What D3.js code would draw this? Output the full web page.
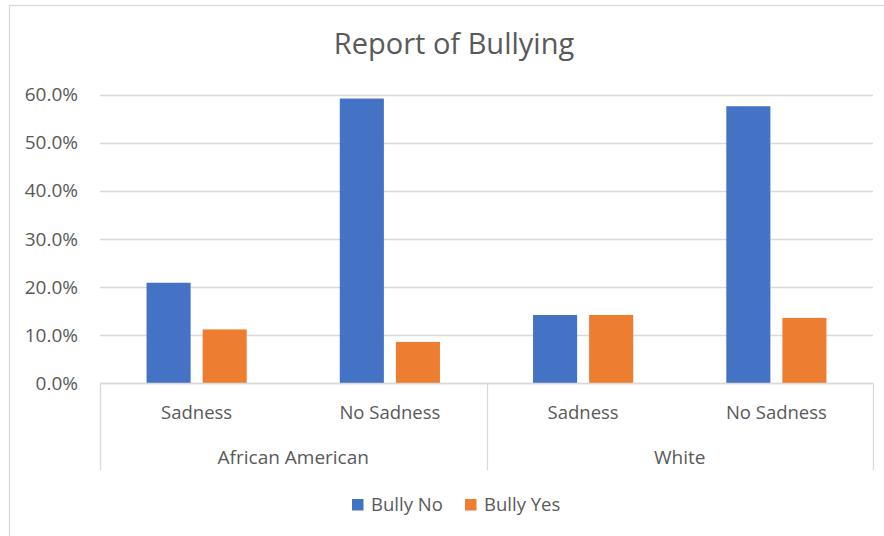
<!DOCTYPE html>
<html>
<head>
<meta charset="utf-8">
<script src="https://cdn.jsdelivr.net/npm/d3@7"></script>
<style>
  html, body { margin: 0; padding: 0; background: #ffffff; }
  svg { display: block; }
  text { font-family: "Open Sans", "Noto Sans", sans-serif; fill: #595959; }
</style>
</head>
<body>
<svg id="chart" width="884" height="536"></svg>
<script>
// ---- data ----
const groups = ["African American", "White"];
const subCategories = ["Sadness", "No Sadness"];
const seriesNames = ["Bully No", "Bully Yes"];
const bullyNo = [0.209, 0.592, 0.142, 0.576];
const bullyYes = [0.112, 0.086, 0.142, 0.136];
const yTicks = [0, 0.1, 0.2, 0.3, 0.4, 0.5, 0.6];
const title = "Report of Bullying";
const colors = ["#4472C4", "#ED7D31"];

// ---- layout ----
const W = 884, H = 536;
const plot = { left: 100, right: 873, top: 94.7, bottom: 383.3 };
const svg = d3.select("#chart");

// chart area border
svg.append("rect")
  .attr("x", 9.5).attr("y", 5.5)
  .attr("width", 900).attr("height", 560)
  .attr("fill", "#ffffff").attr("stroke", "#D9D9D9").attr("stroke-width", 1.3);

// categories (group x sub)
const cats = [];
groups.forEach(g => subCategories.forEach(s => cats.push(g + "|" + s)));

const x0 = d3.scaleBand().domain(cats).range([plot.left, plot.right]).paddingInner(0).paddingOuter(0);
const x1 = d3.scaleBand().domain(seriesNames).range([0, x0.bandwidth()])
  .paddingInner(0.214).paddingOuter(0.83);
const y = d3.scaleLinear().domain([0, 0.6]).range([plot.bottom, plot.top]);

// gridlines
svg.append("g").selectAll("line").data(yTicks).join("line")
  .attr("x1", plot.left).attr("x2", plot.right)
  .attr("y1", d => Math.round(y(d)) + 0.5).attr("y2", d => Math.round(y(d)) + 0.5)
  .attr("stroke", "#D9D9D9").attr("stroke-width", 1.3);

// y axis labels
const yAxis = d3.axisLeft(y).tickValues(yTicks).tickFormat(d3.format(".1%")).tickSize(0).tickPadding(0);
const yg = svg.append("g").attr("transform", `translate(${78},0)`).call(yAxis);
yg.select(".domain").remove();
yg.selectAll("text").attr("font-size", 19).attr("fill", "#595959")
  .style("font-family", '"Open Sans", sans-serif');

// bars
const values = [bullyNo, bullyYes];
seriesNames.forEach((s, si) => {
  svg.append("g").selectAll("rect").data(values[si]).join("rect")
    .attr("x", (d, i) => x0(cats[i]) + x1(s))
    .attr("width", x1.bandwidth())
    .attr("y", d => y(d))
    .attr("height", d => y(0) - y(d))
    .attr("fill", colors[si]);
});

// category axis lines (multi-level)
const axisBottom = Math.round(plot.bottom) + 0.5;
svg.append("line")
  .attr("x1", plot.left).attr("x2", plot.right)
  .attr("y1", axisBottom).attr("y2", axisBottom)
  .attr("stroke", "#D9D9D9").attr("stroke-width", 1.3);

const groupEdges = [plot.left, x0(cats[2]), plot.right];
svg.append("g").selectAll("line").data(groupEdges).join("line")
  .attr("x1", d => Math.round(d) + 0.5).attr("x2", d => Math.round(d) + 0.5)
  .attr("y1", axisBottom).attr("y2", 470)
  .attr("stroke", "#D9D9D9").attr("stroke-width", 1.3);

// sub-category labels
svg.append("g").selectAll("text").data(cats).join("text")
  .attr("x", d => x0(d) + x0.bandwidth() / 2)
  .attr("y", 419)
  .attr("text-anchor", "middle")
  .attr("font-size", 18.5)
  .text(d => d.split("|")[1]);

// group labels
svg.append("g").selectAll("text").data(groups).join("text")
  .attr("x", (g, gi) => (groupEdges[gi] + groupEdges[gi + 1]) / 2)
  .attr("y", 464)
  .attr("text-anchor", "middle")
  .attr("font-size", 19)
  .text(d => d);

// title
svg.append("text")
  .attr("x", 454).attr("y", 54)
  .attr("text-anchor", "middle")
  .attr("font-size", 29)
  .text(title);

// legend
const legendItems = [{ name: seriesNames[0], x: 352 }, { name: seriesNames[1], x: 465 }];
const lg = svg.append("g");
legendItems.forEach((it, i) => {
  lg.append("rect").attr("x", it.x).attr("y", 499).attr("width", 11.5).attr("height", 11.5).attr("fill", colors[i]);
  lg.append("text").attr("x", it.x + 19).attr("y", 511).attr("font-size", 18.5).text(it.name);
});
</script>
</body>
</html>
